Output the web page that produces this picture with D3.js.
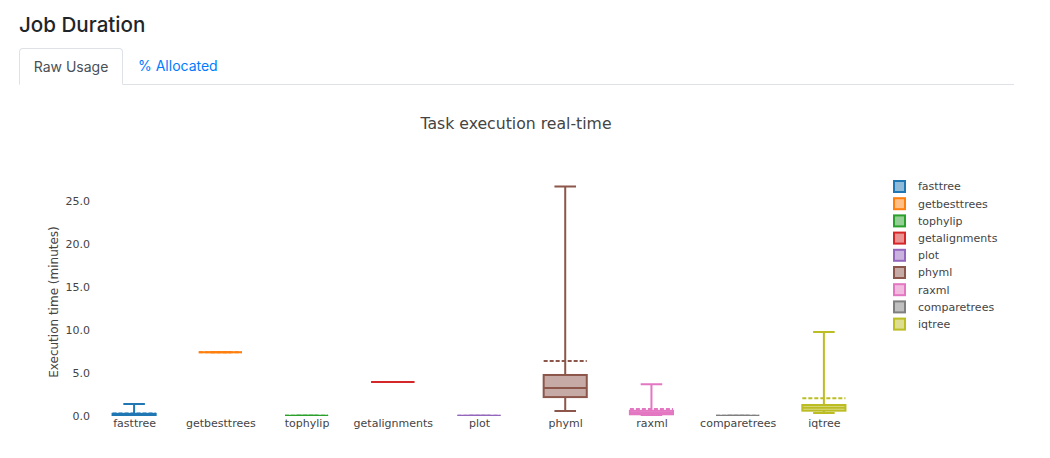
<!DOCTYPE html>
<html>
<head>
<meta charset="utf-8">
<script src="https://cdn.jsdelivr.net/npm/d3@7"></script>
<style>
  body { margin: 0; background: #fff; font-family: Inter, "Noto Sans", sans-serif; }
  #page { position: relative; width: 1050px; height: 458px; overflow: hidden; }
  #header { position: absolute; left: 19px; top: 12px; font-size: 20.6px; font-weight: 500; color: #212529; }
  #tabs { position: absolute; left: 19px; top: 48px; width: 995px; height: 36px; border-bottom: 1px solid #dee2e6; }
  .tab { position: absolute; top: 0; height: 36px; line-height: 36px; font-size: 14px; box-sizing: border-box; }
  .tab.active { left: 0; width: 104px; border: 1px solid #dee2e6; border-bottom: 1px solid #fff; border-radius: 4px 4px 0 0; color: #495057; text-align: center; height: 37px; background: #fff; }
  .tab.other { left: 119px; color: #007bff; }
  #chart { position: absolute; left: 0; top: 0; }
</style>
</head>
<body>
<div id="page">
  <svg id="chart" width="1050" height="458"></svg>
  <div id="header">Job Duration</div>
  <div id="tabs">
    <div class="tab active">Raw Usage</div>
    <div class="tab other">% Allocated</div>
  </div>
</div>
<script>
// task names and box stats (minutes)
const tasks = ["fasttree", "getbesttrees", "tophylip", "getalignments", "plot", "phyml", "raxml", "comparetrees", "iqtree"];
const colors = ["#1f77b4", "#ff7f0e", "#2ca02c", "#d62728", "#9467bd", "#8c564b", "#e377c2", "#7f7f7f", "#bcbd22"];
const minVals = [0.02, 7.4, 0.02, 3.95, 0.02, 0.58, 0.1, 0.02, 0.35];
const q1Vals = [0.05, 7.4, 0.02, 3.95, 0.02, 2.2, 0.2, 0.02, 0.62];
const medianVals = [0.12, 7.4, 0.02, 3.95, 0.02, 3.26, 0.35, 0.02, 0.97];
const q3Vals = [0.25, 7.4, 0.02, 3.95, 0.02, 4.77, 0.6, 0.02, 1.28];
const maxVals = [1.4, 7.4, 0.02, 3.95, 0.02, 26.7, 3.7, 0.02, 9.77];
const meanVals = [0.3, 7.4, 0.02, 3.95, 0.02, 6.4, 0.8, 0.02, 2.06];
const yTicks = [0, 5, 10, 15, 20, 25];

const data = tasks.map((t, i) => ({
    name: t, color: colors[i],
    min: minVals[i], q1: q1Vals[i], med: medianVals[i],
    q3: q3Vals[i], max: maxVals[i], mean: meanVals[i]
}));

const svg = d3.select("#chart");
const chartFont = "'DejaVu Sans', Verdana, sans-serif";

const plotLeft = 91, plotRight = 867, plotTop = 176, plotBottom = 416;

const x = d3.scalePoint()
    .domain(tasks)
    .range([plotLeft, plotRight])
    .padding(0.5);
const boxW = x.step() * 0.5;

const y = d3.scaleLinear()
    .domain([0, 25])
    .range([416, 201]);

// title
svg.append("text")
    .attr("x", 516)
    .attr("y", 129)
    .attr("text-anchor", "middle")
    .style("font-family", chartFont)
    .style("font-size", "15.7px")
    .attr("fill", "#444")
    .text("Task execution real-time");

// y axis labels
svg.append("g")
    .attr("transform", `translate(${plotLeft},0)`)
    .call(d3.axisLeft(y).tickValues(yTicks).tickFormat(d3.format(".1f")).tickSize(0).tickPadding(1))
    .call(g => g.select(".domain").remove())
    .call(g => g.selectAll("text")
        .style("font-family", chartFont)
        .style("font-size", "11px")
        .attr("fill", "#444"));

svg.append("text")
    .attr("transform", "translate(58,302) rotate(-90)")
    .attr("text-anchor", "middle")
    .style("font-family", chartFont)
    .style("font-size", "12px")
    .attr("fill", "#444")
    .text("Execution time (minutes)");

// x axis labels
svg.append("g")
    .attr("transform", `translate(0,${plotBottom})`)
    .call(d3.axisBottom(x).tickSize(0).tickPadding(3))
    .call(g => g.select(".domain").remove())
    .call(g => g.selectAll("text")
        .style("font-family", chartFont)
        .style("font-size", "11px")
        .attr("fill", "#444"));

svg.append("clipPath")
    .attr("id", "plotclip")
    .append("rect")
    .attr("x", plotLeft)
    .attr("y", plotTop)
    .attr("width", plotRight - plotLeft)
    .attr("height", plotBottom - plotTop);

const boxes = svg.append("g")
    .attr("clip-path", "url(#plotclip)")
    .selectAll("g")
    .data(data)
    .join("g")
    .attr("transform", d => `translate(${x(d.name)},0)`);

// whiskers
boxes.append("path")
    .attr("fill", "none")
    .attr("stroke", d => d.color)
    .attr("stroke-width", 2)
    .attr("d", d => {
        const c = boxW / 4;
        return `M0,${y(d.q3)}V${y(d.max)}M${-c},${y(d.max)}H${c}` +
               `M0,${y(d.q1)}V${y(d.min)}M${-c},${y(d.min)}H${c}`;
    });

// box
boxes.append("rect")
    .attr("x", -boxW / 2)
    .attr("width", boxW)
    .attr("y", d => y(d.q3))
    .attr("height", d => Math.max(0, y(d.q1) - y(d.q3)))
    .attr("fill", d => d.color)
    .attr("fill-opacity", 0.5)
    .attr("stroke", d => d.color)
    .attr("stroke-width", 2);

// median
boxes.append("line")
    .attr("x1", -boxW / 2)
    .attr("x2", boxW / 2)
    .attr("y1", d => y(d.med))
    .attr("y2", d => y(d.med))
    .attr("stroke", d => d.color)
    .attr("stroke-width", 2);

// mean (dashed)
boxes.append("line")
    .attr("x1", -boxW / 2)
    .attr("x2", boxW / 2)
    .attr("y1", d => y(d.mean))
    .attr("y2", d => y(d.mean))
    .attr("stroke", d => d.color)
    .attr("stroke-width", 2)
    .attr("stroke-dasharray", "4,2");

// legend
const legend = svg.append("g")
    .attr("transform", "translate(894,181)")
    .selectAll("g")
    .data(data)
    .join("g")
    .attr("transform", (d, i) => `translate(0,${i * 17.2})`);

legend.append("rect")
    .attr("x", 0)
    .attr("y", 0)
    .attr("width", 11)
    .attr("height", 11)
    .attr("fill", d => d.color)
    .attr("fill-opacity", 0.5)
    .attr("stroke", d => d.color)
    .attr("stroke-width", 2);

legend.append("text")
    .attr("x", 24)
    .attr("y", 5.5)
    .attr("dy", "0.35em")
    .style("font-family", chartFont)
    .style("font-size", "11px")
    .attr("fill", "#444")
    .text(d => d.name);
</script>
</body>
</html>
